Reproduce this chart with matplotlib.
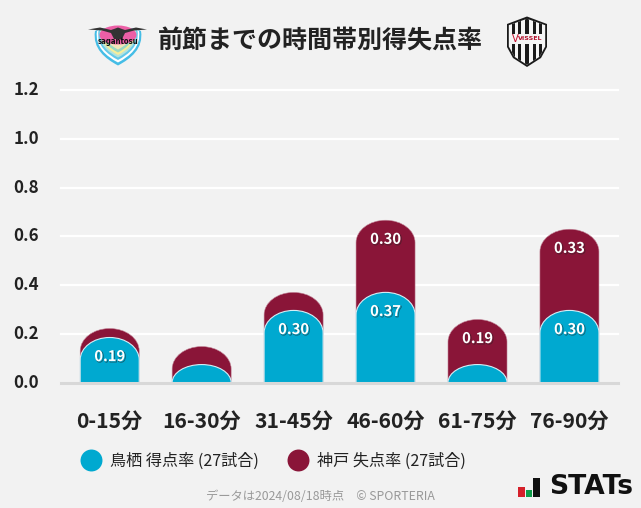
import matplotlib
matplotlib.use("Agg")
import matplotlib.pyplot as plt
import matplotlib.patheffects as pe
from matplotlib.lines import Line2D
from matplotlib.path import Path
from matplotlib.patches import PathPatch, Polygon, Rectangle, Ellipse
from matplotlib.transforms import ScaledTranslation

plt.rcParams['font.family'] = ['Noto Sans CJK JP', 'DejaVu Sans']

# ---- data ----
categories = ['0-15分', '16-30分', '31-45分', '46-60分', '61-75分', '76-90分']
home_rate = [0.185, 0.074, 0.296, 0.370, 0.074, 0.296]
away_rate = [0.037, 0.074, 0.074, 0.296, 0.185, 0.333]
home_labels = ['0.19', '', '0.30', '0.37', '', '0.30']
away_labels = ['', '', '', '0.30', '0.19', '0.33']
y_ticks = [0.0, 0.2, 0.4, 0.6, 0.8, 1.0, 1.2]
home_name = '鳥栖 得点率 (27試合)'
away_name = '神戸 失点率 (27試合)'
title_text = '前節までの時間帯別得失点率'
footer_text = 'データは2024/08/18時点　© SPORTERIA'

BG = '#f2f2f2'
BLUE = '#00a9d0'
MAROON = '#8a1538'
INK = '#222222'
W, H = 641, 508

fig = plt.figure(figsize=(W / 100, H / 100), dpi=100, facecolor=BG)
ax = fig.add_axes([61 / W, 1 - 382.6 / H, 557 / W, (382.6 - 90) / H], facecolor='none')
x0, step = 109.7, 91.95
ax.set_xlim((61 - x0) / step, (618 - x0) / step)
ax.set_ylim(0, 1.2)
for s in ax.spines.values():
    s.set_visible(False)
ax.set_yticks(y_ticks, [f'{v:.1f}' for v in y_ticks], fontsize=12.2, fontweight='bold', color=INK)
ax.set_xticks(range(len(categories)), categories, fontsize=15.2, fontweight='bold', color=INK)
ax.tick_params(axis='y', length=0, pad=15.8)
ax.tick_params(axis='x', length=0, pad=20.5)
up = ScaledTranslation(0, 2 / 100, fig.dpi_scale_trans)
for t in ax.get_yticklabels():
    t.set_transform(t.get_transform() + up)
for v in y_ticks[1:]:
    ax.axhline(v, color='white', lw=1.6, zorder=1, clip_on=False)
ax.axhline(0, color='#d8d8d8', lw=2.2, zorder=6, clip_on=False)

HW = 0.321   # half bar width
CAP = 0.092  # cap height in data units
K = 0.5523


def capsule(i, top):
    cap = min(top, CAP)
    l, r = i - HW, i + HW
    s = top - cap
    verts = [(l, 0), (l, s),
             (l, s + K * cap), (i - K * HW, top), (i, top),
             (i + K * HW, top), (r, s + K * cap), (r, s),
             (r, 0), (l, 0)]
    codes = [Path.MOVETO, Path.LINETO, Path.CURVE4, Path.CURVE4, Path.CURVE4,
             Path.CURVE4, Path.CURVE4, Path.CURVE4, Path.LINETO, Path.CLOSEPOLY]
    return Path(verts, codes)


for i, (h, a) in enumerate(zip(home_rate, away_rate)):
    ax.add_patch(PathPatch(capsule(i, h + a), fc=MAROON, ec='#c48a9c', lw=0.4, zorder=3))
    ax.add_patch(PathPatch(capsule(i, h), fc=BLUE, ec='#d5eef5', lw=0.8, zorder=4))
    for val, lab in ((h, home_labels[i]), (h + a, away_labels[i])):
        if lab:
            ax.annotate(lab, (i, val), xytext=(0, -13.4), textcoords='offset points',
                        ha='center', va='center', fontsize=10.6, fontweight='bold',
                        color='white', zorder=7,
                        path_effects=[pe.SimpleLineShadow(offset=(0.7, -0.7), shadow_color='#222222',
                                                          alpha=0.55, linewidth=0.6), pe.Normal()])

fig.text(320.5 / W, 1 - 41 / H, title_text, ha='center', va='center', fontsize=18,
         fontweight='bold', color=INK)

handles = [Line2D([], [], ls='none', marker='o', ms=15.8, mfc=BLUE, mec='none'),
           Line2D([], [], ls='none', marker='o', ms=15.8, mfc=MAROON, mec='none')]
fig.legend(handles, [home_name, away_name], loc='center left',
           bbox_to_anchor=(78.5 / W, 1 - 461 / H), frameon=False, ncol=2, fontsize=11.6,
           labelcolor=INK, handlelength=1.5, handletextpad=0.43, columnspacing=1.72,
           borderpad=0, borderaxespad=0)

fig.text(320.5 / W, 1 - 497 / H, footer_text, ha='center', va='center', fontsize=8.85,
         color='#999999')

# overlay in pixel coordinates for the badges and brand mark
ov = fig.add_axes([0, 0, 1, 1], facecolor='none')
ov.set_xlim(0, W)
ov.set_ylim(H, 0)
ov.axis('off')


def shield(cx, top, hw, h, **kw):
    b = top + h
    verts = [(cx - hw, top + h * 0.08),
             (cx - hw * 1.12, top + h * 0.55), (cx - hw * 0.55, top + h * 0.82), (cx, b),
             (cx + hw * 0.55, top + h * 0.82), (cx + hw * 1.12, top + h * 0.55), (cx + hw, top + h * 0.08),
             (cx + hw * 0.5, top - h * 0.06), (cx - hw * 0.5, top - h * 0.06), (cx - hw, top + h * 0.08),
             (cx - hw, top + h * 0.08)]
    codes = [Path.MOVETO] + [Path.CURVE4] * 9 + [Path.CLOSEPOLY]
    return PathPatch(Path(verts, codes), **kw)


# Sagan Tosu badge
for hw, h, col in ((23, 37.5, '#45bde6'), (21, 34.5, '#ffffff'), (19.5, 32, '#63c9ea'),
                   (18, 29.5, '#b5e3dc'), (16.5, 27, '#f7ee9a'), (15, 24.5, '#9ad9c3'),
                   (13.5, 21.5, '#f2e6b8')):
    ov.add_patch(shield(118, 28, hw, h, fc=col, ec='none'))
ov.add_patch(Ellipse((118, 35), 37, 19, fc='#ec5fa6', ec='none'))
ov.add_patch(Polygon([(88, 29.5), (100, 27.5), (111, 30), (114, 29), (118, 27.5), (122, 29), (125, 30),
                      (136, 27.5), (147, 29.5), (134, 30.5), (125, 33), (122, 39),
                      (114, 39), (111, 33), (102, 30.5)],
                     fc='#333333', ec='none'))
ov.text(118, 41.5, 'sagantosu', ha='center', va='center', fontsize=5.6, fontweight='bold',
        color='#111111', family='DejaVu Sans', stretch='condensed')

# Vissel Kobe badge
ov.add_patch(Polygon([(507, 24), (527, 16.5), (547, 24), (547, 47), (541, 58), (527, 67), (513, 58), (507, 47)],
                     fc='#1a1a1a', ec='none'))
inner = Polygon([(508.8, 25.2), (527, 18.8), (545.2, 25.2), (545.2, 46.5), (539.5, 56.8), (527, 64.8),
                 (514.5, 56.8), (508.8, 46.5)], fc='#f5f5f5', ec='none')
ov.add_patch(inner)
for sx in (511.5, 518, 525.4, 532.5, 539):
    r = Rectangle((sx, 18), 3.4, 50, fc='#1a1a1a', ec='none')
    ov.add_patch(r)
    r.set_clip_path(inner)
ov.add_patch(Rectangle((508.8, 33.5), 36.4, 10, fc='#f5f5f5', ec='none'))
ov.text(512, 38.6, 'V', ha='left', va='center', fontsize=7.2, color='#c8102e', family='DejaVu Sans')
ov.text(518, 38.6, 'VISSEL', ha='left', va='center', fontsize=4.5, fontweight='bold',
        color='#b5122e', family='DejaVu Sans')

# STATS brand
ov.add_patch(Rectangle((518, 487), 7, 10, fc='#d5202a', ec='none'))
ov.add_patch(Rectangle((526, 490), 6, 7, fc='#0f9d4a', ec='none'))
ov.add_patch(Rectangle((533, 478), 7, 19, fc='#111111', ec='none'))
ov.text(549, 487.5, 'STATs', ha='left', va='center', fontsize=19.2, fontweight='bold',
        color='#111111', family='DejaVu Sans')

fig.savefig('out.png', dpi=100, facecolor=BG)
